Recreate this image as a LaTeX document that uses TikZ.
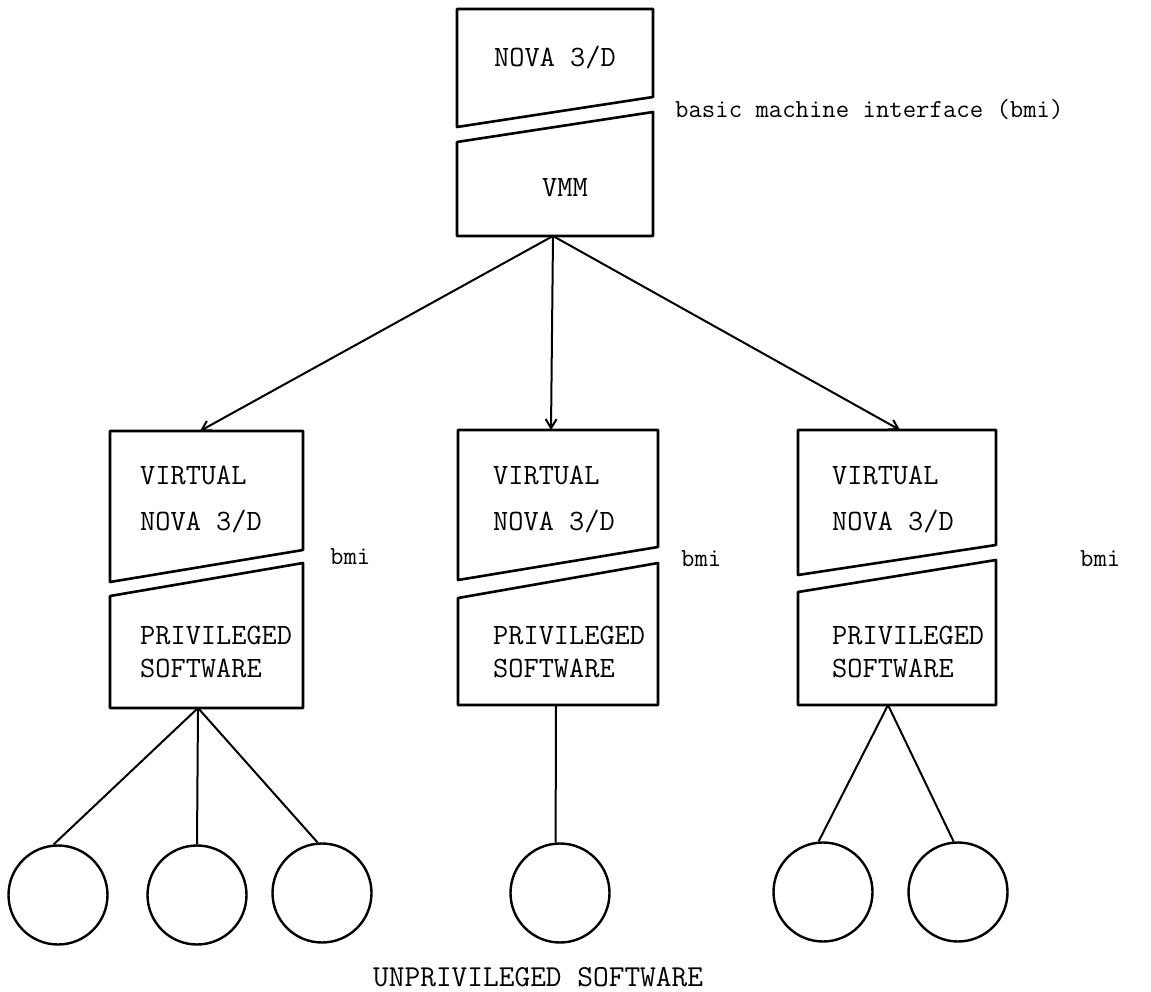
\documentclass[tikz,border=0pt]{standalone}
\usetikzlibrary{arrows.meta}
\begin{document}
\begin{tikzpicture}[x=1pt,y=-1pt,
  boxline/.style={line width=2.6pt,line join=round},
  conn/.style={line width=2pt},
  arr/.style={conn,-{Straight Barb[length=9pt,width=11pt,line width=2pt]}},
  leaf/.style={circle,draw,line width=2.4pt,minimum size=99pt,inner sep=0pt},
  boxtext/.style={font=\ttfamily\fontsize{29.5}{33}\selectfont,inner sep=0pt,align=left,anchor=west},
  lbl/.style={font=\ttfamily\fontsize{26}{30}\selectfont,inner sep=0pt,anchor=west}
]
\useasboundingbox (0,0) rectangle (1151,992);

% ---- top column ----
\draw[boxline] (457,9) -- (653,9) -- (653,97) -- (457,127) -- cycle;
\draw[boxline] (457,142) -- (653,112) -- (653,236) -- (457,236) -- cycle;
\node[boxtext,anchor=center] (nova) at (555,57) {NOVA 3/D};
\node[boxtext] (vmm) at (542,188) {VMM};
\node[lbl] (bmitop) at (675,110) {basic machine interface (bmi)};
\coordinate (vmmb) at (553,236);

% ---- left column ----
\draw[boxline] (110,431) -- (303,431) -- (303,550) -- (110,582) -- cycle;
\draw[boxline] (110,596) -- (303,563) -- (303,708) -- (110,708) -- cycle;
\coordinate (ltop) at (200,431);
\coordinate (lbot) at (198,708);
\node[boxtext] (lv) at (140,500) {VIRTUAL\\[13pt]NOVA 3/D};
\node[boxtext] (lp) at (140,652) {PRIVILEGED\\SOFTWARE};
\node[lbl] (lbmi) at (330,557) {bmi};

% ---- middle column ----
\draw[boxline] (458,430) -- (658,430) -- (658,547) -- (458,580) -- cycle;
\draw[boxline] (458,598) -- (658,563) -- (658,705) -- (458,705) -- cycle;
\coordinate (mtop) at (551,430);
\coordinate (mbot) at (556,705);
\node[boxtext] (mv) at (493,500) {VIRTUAL\\[13pt]NOVA 3/D};
\node[boxtext] (mp) at (493,652) {PRIVILEGED\\SOFTWARE};
\node[lbl] (mbmi) at (681,559) {bmi};

% ---- right column ----
\draw[boxline] (798,430) -- (996,430) -- (996,545) -- (798,575) -- cycle;
\draw[boxline] (798,592) -- (996,560) -- (996,705) -- (798,705) -- cycle;
\coordinate (rtop) at (900,430);
\coordinate (rbot) at (888,705);
\node[boxtext] (rv) at (832,500) {VIRTUAL\\[13pt]NOVA 3/D};
\node[boxtext] (rp) at (832,652) {PRIVILEGED\\SOFTWARE};
\node[lbl] (rbmi) at (1080,559) {bmi};

% ---- arrows from VMM ----
\draw[arr] (vmmb) -- (ltop);
\draw[arr] (vmmb) -- (mtop);
\draw[arr] (vmmb) -- (rtop);

% ---- leaves ----
\node[leaf] (c1) at (58,895) {};
\node[leaf] (c2) at (197,895) {};
\node[leaf] (c3) at (322,893) {};
\node[leaf] (c4) at (560,893) {};
\node[leaf] (c5) at (823,892) {};
\node[leaf] (c6) at (958,892) {};

\draw[conn] (lbot) -- (c1.95);
\draw[conn] (lbot) -- (c2.north);
\draw[conn] (lbot) -- (c3.95);
\draw[conn] (mbot) -- (c4.95);
\draw[conn] (rbot) -- (c5.95);
\draw[conn] (rbot) -- (c6.95);

\node[font=\ttfamily\fontsize{30.5}{34}\selectfont,inner sep=0pt,anchor=west] (unpriv) at (373,977) {UNPRIVILEGED SOFTWARE};
\end{tikzpicture}
\end{document}
